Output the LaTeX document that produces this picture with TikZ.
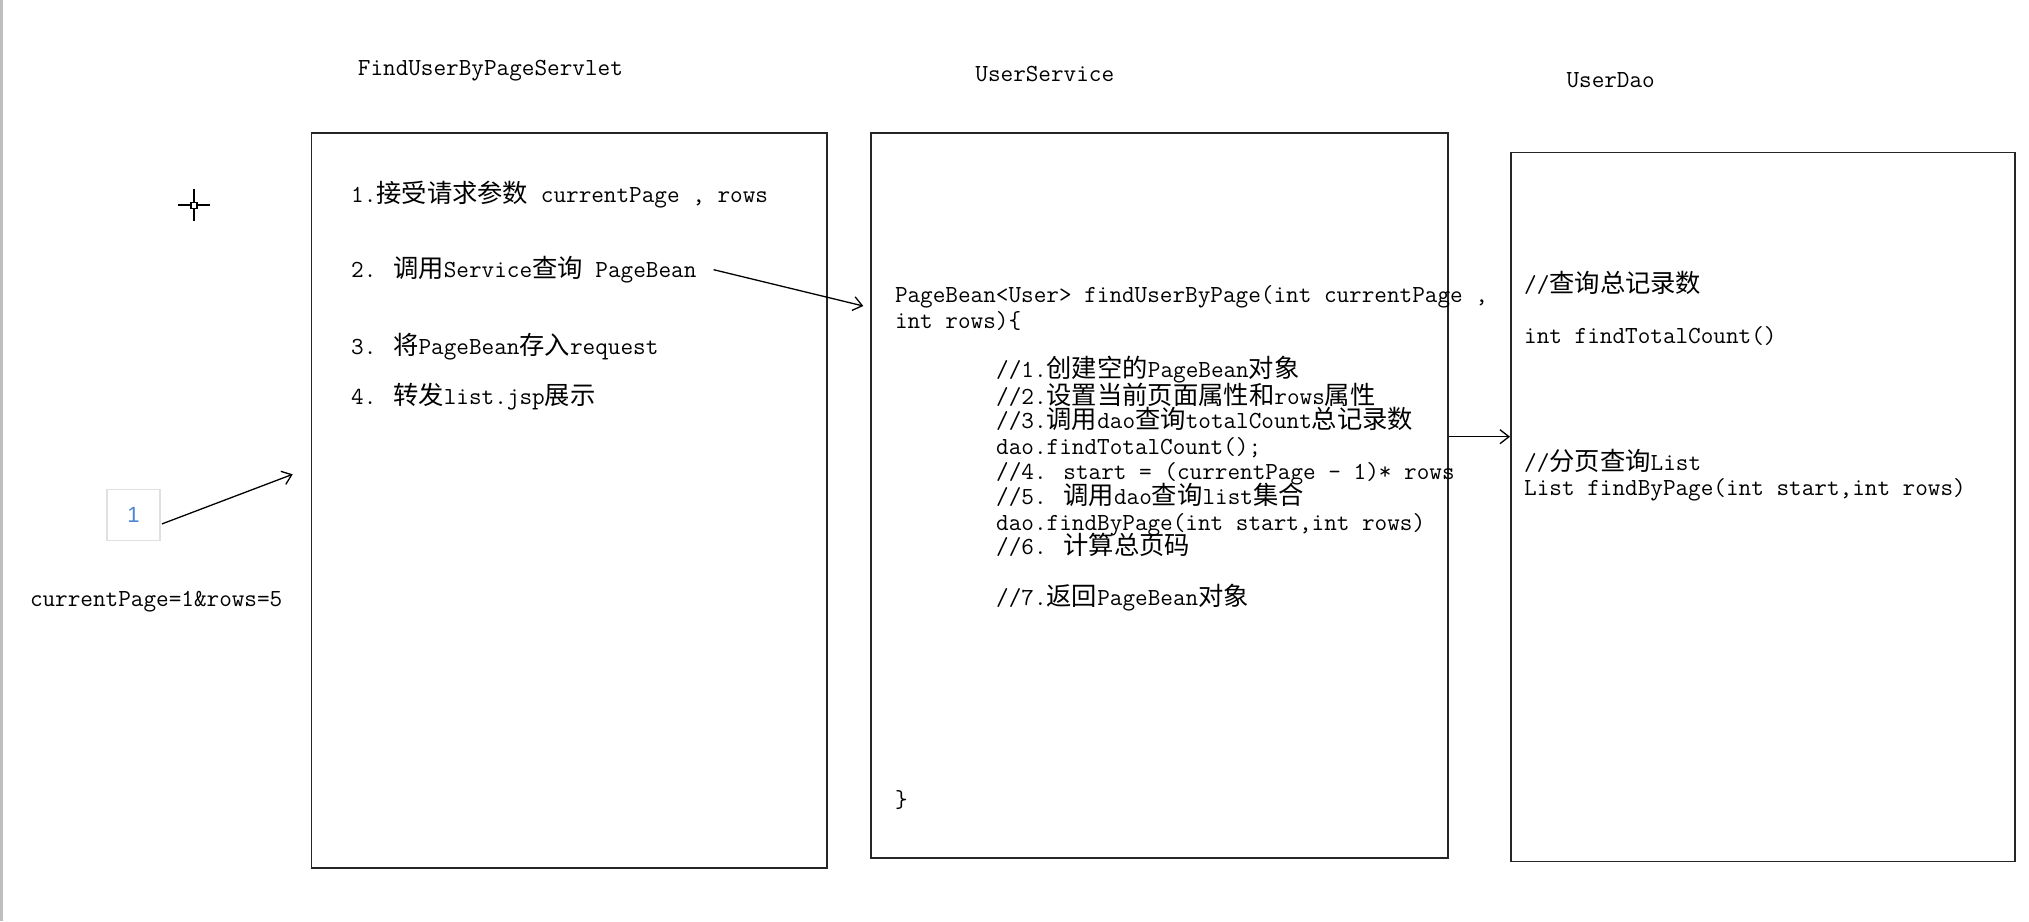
\documentclass[tikz,border=0pt]{standalone}
\usepackage{fontspec}
\newfontfamily\cjk[Scale=1.033]{Noto Sans CJK SC}
\newfontfamily\numfont{Liberation Sans}
\usetikzlibrary{arrows.meta}
\definecolor{numblue}{HTML}{4F86D0}
\newcommand\zh[1]{{\cjk #1}}

\begin{document}
\begin{tikzpicture}[x=1pt,y=-1pt,
  every node/.style={inner sep=0pt},
  txt/.style={anchor=base west,font=\ttfamily\fontsize{24.5}{25.3}\selectfont},
  pane/.style={draw=black!85,line width=1.5pt,anchor=north west},
  link/.style={line width=1.3pt,-{Straight Barb[length=9pt,width=14pt]}}]

 \useasboundingbox[fill=white] (0,0) rectangle (2029,921);
 \draw[black!25,line width=3pt] (1.5,0) -- (1.5,921);

 \def\b{7.5};

	%draw panes
 \node[pane,minimum width=515.4pt,minimum height=735pt] (servlet) at (310.6,132) {};
 \node[pane,minimum width=577pt,minimum height=725pt] (service) at (870,132) {};
 \node[pane,minimum width=504pt,minimum height=709pt] (dao) at (1510,151.5) {};

	%titles
    \foreach \px/\py/\txt/\name in { 357.7/67.7/FindUserByPageServlet/tservlet, 975.2/74/UserService/tservice, 1566.3/80/UserDao/tdao}{
           \node[txt] (\name) at (\px, \py+\b) {\txt};
    }

	%servlet steps
    \foreach \px/\py/\txt/\name in { 351/195/{1.\zh{接受请求参数} currentPage , rows}/s1,
                                     351/270/{2. \zh{调用}Service\zh{查询} PageBean}/s2,
                                     351/346.7/{3. \zh{将}PageBean\zh{存入}request}/s3,
                                     351/396.7/{4. \zh{转发}list.jsp\zh{展示}}/s4}{
           \node[txt] (\name) at (\px, \py+\b) {\txt};
    }

	%service code
    \foreach \px/\py/\txt/\name in { 894.8/295/{PageBean<User> findUserByPage(int currentPage ,}/c1,
                                     894.8/320.7/{int rows)\{}/c2,
                                     996/370/{//1.\zh{创建空的}PageBean\zh{对象}}/c3,
                                     996/396.7/{//2.\zh{设置当前页面属性和}rows\zh{属性}}/c4,
                                     996/420.7/{//3.\zh{调用}dao\zh{查询}totalCount\zh{总记录数}}/c5,
                                     996/446.7/{dao.findTotalCount();}/c6,
                                     996/472.3/{//4. start = (currentPage - 1)* rows}/c7,
                                     996/497/{//5. \zh{调用}dao\zh{查询}list\zh{集合}}/c8,
                                     996/522.8/{dao.findByPage(int start,int rows)}/c9,
                                     996/547.4/{//6. \zh{计算总页码}}/c10,
                                     996/597.8/{//7.\zh{返回}PageBean\zh{对象}}/c11,
                                     894.8/799.7/{\}}/c12}{
           \node[txt] (\name) at (\px, \py+\b) {\txt};
    }

	%dao methods
    \foreach \px/\py/\txt/\name in { 1524/284.8/{//\zh{查询总记录数}}/d1,
                                     1524/336/{int findTotalCount()}/d2,
                                     1524/463/{//\zh{分页查询}List}/d3,
                                     1524/487.5/{List findByPage(int start,int rows)}/d4}{
           \node[txt] (\name) at (\px, \py+\b) {\txt};
    }

	%request
 \node[draw=black!12,line width=1.2pt,minimum width=53pt,minimum height=51pt,text=numblue,font=\numfont\fontsize{22}{22}\selectfont] (num) at (133.4,514.9) {1};
 \node[txt] (query) at (29.8, 599+\b) {currentPage=1\&rows=5};

	%cursor
 \def\cx{194}; \def\cy{205.3};
 \draw[line width=2pt] (\cx-16,\cy) -- (\cx+16,\cy) (\cx,\cy-16) -- (\cx,\cy+16);
 \draw[line width=1.2pt,fill=white] (\cx-3,\cy-3) rectangle (\cx+3,\cy+3);

	%calls
 \coordinate (in1) at (292.7,474.3);
 \coordinate (in2) at (863.3,306);
 \coordinate (r3) at (0,436.7);
 \draw[link] ([xshift=1.5pt,yshift=-9pt]num.east) -- (in1);
 \draw[link] ([xshift=17pt]s2.east) -- (in2);
 \draw[link] (service.east |- r3) -- (dao.west |- r3);

\end{tikzpicture}
\end{document}
